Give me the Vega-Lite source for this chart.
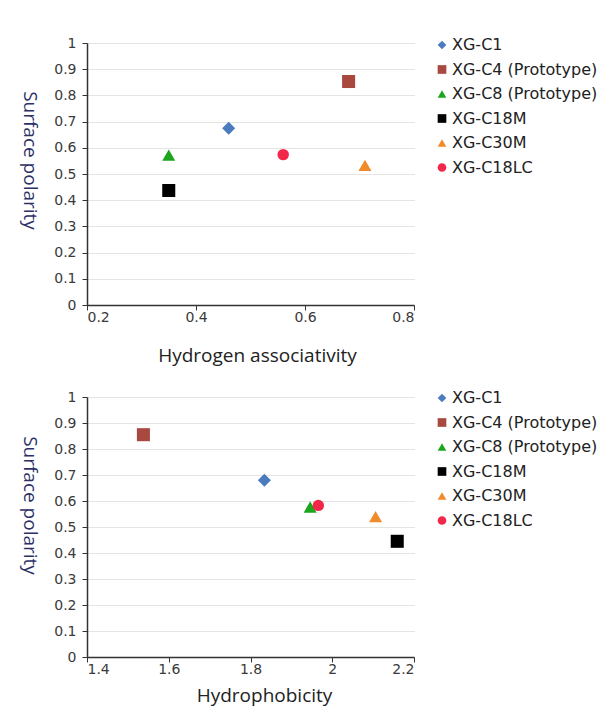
{
  "$schema": "https://vega.github.io/schema/vega-lite/v6.json",
  "background": "white",
  "padding": {"left": 18, "top": 36, "right": 0, "bottom": 4},
  "datasets": {
    "hydrogen": [
      {"series": "XG-C1", "x": 0.46, "y": 0.675},
      {"series": "XG-C4 (Prototype)", "x": 0.68, "y": 0.853},
      {"series": "XG-C8 (Prototype)", "x": 0.35, "y": 0.572},
      {"series": "XG-C18M", "x": 0.35, "y": 0.437},
      {"series": "XG-C30M", "x": 0.71, "y": 0.533},
      {"series": "XG-C18LC", "x": 0.56, "y": 0.574}
    ],
    "hydrophobic": [
      {"series": "XG-C1", "x": 1.834, "y": 0.68},
      {"series": "XG-C4 (Prototype)", "x": 1.538, "y": 0.855},
      {"series": "XG-C8 (Prototype)", "x": 1.946, "y": 0.577},
      {"series": "XG-C18M", "x": 2.159, "y": 0.445},
      {"series": "XG-C30M", "x": 2.106, "y": 0.54},
      {"series": "XG-C18LC", "x": 1.966, "y": 0.583}
    ]
  },
  "vconcat": [
    {
      "width": 327,
      "height": 262,
      "data": {"name": "hydrogen"},
      "mark": {"type": "point", "filled": true, "opacity": 1},
      "encoding": {
        "x": {"field": "x", "type": "quantitative", "scale": {"domain": [0.2, 0.8], "nice": false, "zero": false},
          "axis": {"title": "Hydrogen associativity", "values": [0.2, 0.4, 0.6, 0.8], "format": "~g", "grid": false, "titleX": 170, "titleY": 50, "titleBaseline": "middle", "titleAlign": "center"}},
        "y": {"field": "y", "type": "quantitative", "scale": {"domain": [0, 1], "nice": false},
          "axis": {"title": "Surface polarity", "values": [0, 0.1, 0.2, 0.3, 0.4, 0.5, 0.6, 0.7, 0.8, 0.9, 1], "format": "~g", "titleX": -58, "titleY": 117, "titleBaseline": "middle", "titleAlign": "center", "titleAngle": 90}},
        "color": {"field": "series", "type": "nominal",
          "scale": {"domain": ["XG-C1", "XG-C4 (Prototype)", "XG-C8 (Prototype)", "XG-C18M", "XG-C30M", "XG-C18LC"],
            "range": ["#4A7BBE", "#A8483F", "#1DA51D", "#000000", "#F08B2B", "#F2284A"]},
          "legend": {"title": null, "orient": "none", "legendX": 347, "legendY": -6}},
        "shape": {"field": "series", "type": "nominal",
          "scale": {"domain": ["XG-C1", "XG-C4 (Prototype)", "XG-C8 (Prototype)", "XG-C18M", "XG-C30M", "XG-C18LC"],
            "range": ["diamond", "square", "triangle-up", "square", "triangle-up", "circle"]},
          "legend": {"title": null, "orient": "none", "legendX": 347, "legendY": -6}},
        "size": {"condition": {"test": "datum.series === 'XG-C18LC'", "value": 130}, "value": 170}
      }
    },
    {
      "width": 327,
      "height": 260,
      "data": {"name": "hydrophobic"},
      "mark": {"type": "point", "filled": true, "opacity": 1},
      "encoding": {
        "x": {"field": "x", "type": "quantitative", "scale": {"domain": [1.4, 2.2], "nice": false, "zero": false},
          "axis": {"title": "Hydrophobicity", "values": [1.4, 1.6, 1.8, 2, 2.2], "format": "~g", "grid": false, "titleX": 177, "titleY": 38, "titleBaseline": "middle", "titleAlign": "center"}},
        "y": {"field": "y", "type": "quantitative", "scale": {"domain": [0, 1], "nice": false},
          "axis": {"title": "Surface polarity", "values": [0, 0.1, 0.2, 0.3, 0.4, 0.5, 0.6, 0.7, 0.8, 0.9, 1], "format": "~g", "titleX": -58, "titleY": 108, "titleBaseline": "middle", "titleAlign": "center", "titleAngle": 90}},
        "color": {"field": "series", "type": "nominal",
          "scale": {"domain": ["XG-C1", "XG-C4 (Prototype)", "XG-C8 (Prototype)", "XG-C18M", "XG-C30M", "XG-C18LC"],
            "range": ["#4A7BBE", "#A8483F", "#1DA51D", "#000000", "#F08B2B", "#F2284A"]},
          "legend": {"title": null, "orient": "none", "legendX": 347, "legendY": -7}},
        "shape": {"field": "series", "type": "nominal",
          "scale": {"domain": ["XG-C1", "XG-C4 (Prototype)", "XG-C8 (Prototype)", "XG-C18M", "XG-C30M", "XG-C18LC"],
            "range": ["diamond", "square", "triangle-up", "square", "triangle-up", "circle"]},
          "legend": {"title": null, "orient": "none", "legendX": 347, "legendY": -7}},
        "size": {"condition": {"test": "datum.series === 'XG-C18LC'", "value": 130}, "value": 170}
      }
    }
  ],
  "spacing": 92,
  "bounds": "flush",
  "resolve": {
    "scale": {"color": "independent", "shape": "independent"},
    "legend": {"color": "independent", "shape": "independent"}
  },
  "config": {
    "view": {"stroke": null},
    "axis": {
      "labelFont": "DejaVu Sans",
      "labelFontSize": 14,
      "labelColor": "#3a3a3a",
      "titleFont": "Open Sans",
      "titleFontSize": 19,
      "titleFontWeight": "normal",
      "titleColor": "#222222",
      "domainColor": "#333333",
      "domainWidth": 1.5,
      "tickColor": "#333333",
      "tickSize": 5,
      "gridColor": "#c8c8c8",
      "gridDash": [1, 1],
      "gridWidth": 1,
      "labelPadding": 3
    },
    "axisX": {"labelPadding": 0},
    "axisY": {"titleColor": "#2b3066", "labelPadding": 6},
    "legend": {
      "labelFont": "DejaVu Sans",
      "labelFontSize": 16,
      "labelColor": "#222222",
      "symbolSize": 75,
      "rowPadding": 8.5,
      "labelOffset": 2,
      "symbolType": "circle"
    }
  }
}
